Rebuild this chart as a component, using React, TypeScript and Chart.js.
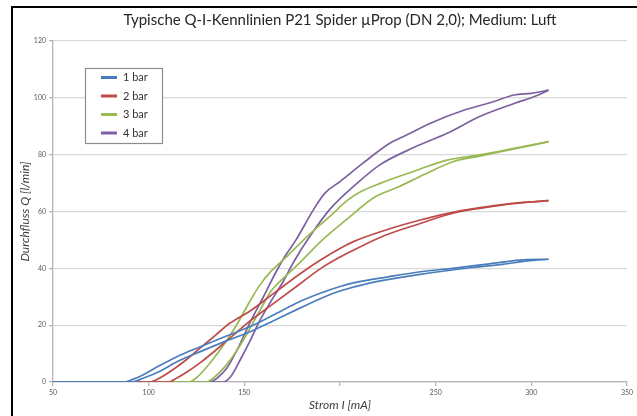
import React, { useEffect, useRef } from 'react';
import { Chart, registerables } from 'chart.js';

Chart.register(...registerables);

const chartTitle = 'Typische Q-I-Kennlinien P21 Spider µProp (DN 2,0); Medium: Luft';
const xAxisTitle = 'Strom I [mA]';
const yAxisTitle = 'Durchfluss Q [l/min]';

const seriesLabels = ['1 bar', '2 bar', '3 bar', '4 bar'];
const seriesColors = ['#4a7ebb', '#be4b48', '#98b954', '#7d60a0'];

// tick values that carry a label on the x axis (200 has none in the original)
const xTickLabelValues = [50, 100, 150, 250, 300, 350];

// [I mA, Q l/min] pairs, two branches (hysteresis) per pressure
const bar1Up = [[50,0],[87,0],[92,1],[97,2.5],[105,5.5],[115,9],[127,12.4],[140,16],[153,19.5],[165,23.5],[179,28.3],[190,31.3],[200,33.6],[207,34.9],[225,37],[242,38.8],[260,40.1],[277,41.5],[294,42.9],[309,43.2]];
const bar1Down = [[50,0],[91,0],[97,1.3],[105,3.5],[115,7.2],[127,10.7],[140,14.3],[153,17.7],[165,21.5],[179,26],[190,29.4],[200,32],[216,34.9],[242,37.9],[268,40.2],[285,41.4],[298,42.6],[309,43.2]];

const bar2Up = [[50,0],[101,0],[106,1.5],[113,4.5],[120,8],[127,12],[135,16.5],[142,20.5],[153,25],[165,31],[179,38],[190,43],[200,47],[207,49.4],[224,53.5],[242,57],[259,59.7],[277,61.7],[294,63.1],[309,63.8]];
const bar2Down = [[50,0],[110.5,0],[115,1.5],[120,3.5],[127,6.8],[140,14],[153,21.5],[165,27.5],[179,34.5],[190,40],[200,44],[207,46.4],[224,51.7],[242,55.8],[259,59.4],[277,61.5],[294,63],[309,63.8]];

const bar3Up = [[50,0],[121,0],[125,1.5],[130,5],[137,11],[145,19],[153,28.5],[158,34],[164,39],[172,44],[181,50],[195,58.5],[204,64],[211,67],[221,69.9],[238,74],[256,78.1],[273,79.9],[291,82.2],[309,84.6]];
const bar3Down = [[50,0],[130,0],[134,1.5],[140,5.5],[147,12],[153,19],[158,25],[164,32],[172,37.5],[179,42],[190,49.5],[204,57.5],[218,65],[230,68.5],[244,73],[259,77.5],[273,79.5],[291,82],[309,84.6]];

const bar4Up = [[50,0],[132,0],[136,1.5],[141,5],[146,11],[153,21],[160,30],[166,38],[171,44],[177,50],[186,60.5],[192,66.4],[200,70.5],[212,77],[226,84],[235,87],[247,91],[265,95.7],[280,98.6],[291,101],[300,101.6],[309,102.7]];
const bar4Down = [[50,0],[139,0],[143,2],[148,8],[153,14.5],[158,21.5],[164,28.5],[170,35],[176,42.5],[184,51],[195,61],[209,70],[221,76.5],[238.5,82.5],[256,87.5],[273,93.4],[291,98],[303,100.8],[309,102.7]];

const seriesBranches = [
  [bar1Up, bar1Down],
  [bar2Up, bar2Down],
  [bar3Up, bar3Down],
  [bar4Up, bar4Down],
];

const legendPlugin = {
  id: 'boxLegend',
  afterDraw(chart: any) {
    const { ctx, chartArea } = chart;
    const left = chartArea.left + 32;
    const top = chartArea.top + 27;
    const w = 77;
    const h = 75;
    ctx.save();
    ctx.fillStyle = '#ffffff';
    ctx.fillRect(left, top, w, h);
    ctx.strokeStyle = '#8c8c8c';
    ctx.lineWidth = 1.2;
    ctx.strokeRect(left + 0.5, top + 0.5, w, h);
    ctx.font = '11px Lato';
    ctx.textBaseline = 'middle';
    seriesLabels.forEach((label, i) => {
      const y = top + 9.5 + i * 18.5;
      ctx.strokeStyle = seriesColors[i];
      ctx.lineWidth = 3;
      ctx.beginPath();
      ctx.moveTo(left + 16, y);
      ctx.lineTo(left + 32, y);
      ctx.stroke();
      ctx.fillStyle = '#333333';
      ctx.fillText(label, left + 38, y);
    });
    ctx.restore();
  },
};

export default function App() {
  const canvasRef = useRef<HTMLCanvasElement | null>(null);

  useEffect(() => {
    if (!canvasRef.current) return;
    const datasets: any[] = [];
    seriesBranches.forEach((branches, i) => {
      branches.forEach((branch, j) => {
        datasets.push({
          label: seriesLabels[i] + (j === 0 ? '' : ' ↓'),
          data: branch.map(([x, y]) => ({ x, y })),
          borderColor: seriesColors[i],
          backgroundColor: seriesColors[i],
          borderWidth: 1.7,
          pointRadius: 0,
          fill: false,
          cubicInterpolationMode: 'monotone',
        });
      });
    });

    const chart = new Chart(canvasRef.current, {
      type: 'line',
      data: { datasets },
      plugins: [legendPlugin],
      options: {
        animation: false,
        responsive: false,
        maintainAspectRatio: false,
        layout: { padding: { left: 0, right: 10, top: 0, bottom: 0 } },
        plugins: {
          legend: { display: false },
          tooltip: { enabled: false },
          title: {
            display: true,
            text: chartTitle,
            fullSize: false,
            color: '#262626',
            font: { family: 'Lato', size: 15, weight: 'normal' },
            padding: { top: 11, bottom: 12 },
          },
        },
        scales: {
          x: {
            type: 'linear',
            min: 50,
            max: 350,
            afterFit: (s: any) => { s.height = 34; },
            ticks: {
              stepSize: 50,
              padding: 3,
              color: '#595959',
              font: { family: 'Lato', size: 7 },
              maxRotation: 0,
              callback: (v: any) => (xTickLabelValues.includes(Number(v)) ? String(v) : ''),
            },
            grid: { drawOnChartArea: false, drawTicks: true, tickLength: 4, tickColor: '#b3b3b3', lineWidth: 1.3 },
            border: { color: '#b3b3b3', width: 1.3 },
            title: {
              display: true,
              text: xAxisTitle,
              color: '#404040',
              font: { family: 'Lato', size: 12, style: 'italic' },
              padding: { top: 0, bottom: 4 },
            },
          },
          y: {
            type: 'linear',
            min: 0,
            max: 120,
            afterFit: (s: any) => { s.width = 53; },
            ticks: {
              stepSize: 20,
              padding: 3,
              color: '#595959',
              font: { family: 'Lato', size: 7 },
            },
            grid: { color: '#d9d9d9', lineWidth: 1.3, tickLength: 4, tickColor: '#b3b3b3' },
            border: { color: '#b3b3b3', width: 1.3 },
            title: {
              display: true,
              text: yAxisTitle,
              color: '#404040',
              font: { family: 'Lato', size: 12, style: 'italic' },
              padding: { top: 18, bottom: 0 },
            },
          },
        },
      },
    });
    return () => chart.destroy();
  }, []);

  return (
    <div style={{ position: 'fixed', left: 0, top: 0, width: 637, height: 416, overflow: 'hidden', background: '#ffffff' }}>
      <div style={{ position: 'absolute', left: 11, top: 6, width: 700, height: 500, borderTop: '2px solid #000', borderLeft: '2px solid #000' }} />
      <canvas ref={canvasRef} width={637} height={416} style={{ position: 'absolute', left: 0, top: 0, width: 637, height: 416 }} />
    </div>
  );
}
